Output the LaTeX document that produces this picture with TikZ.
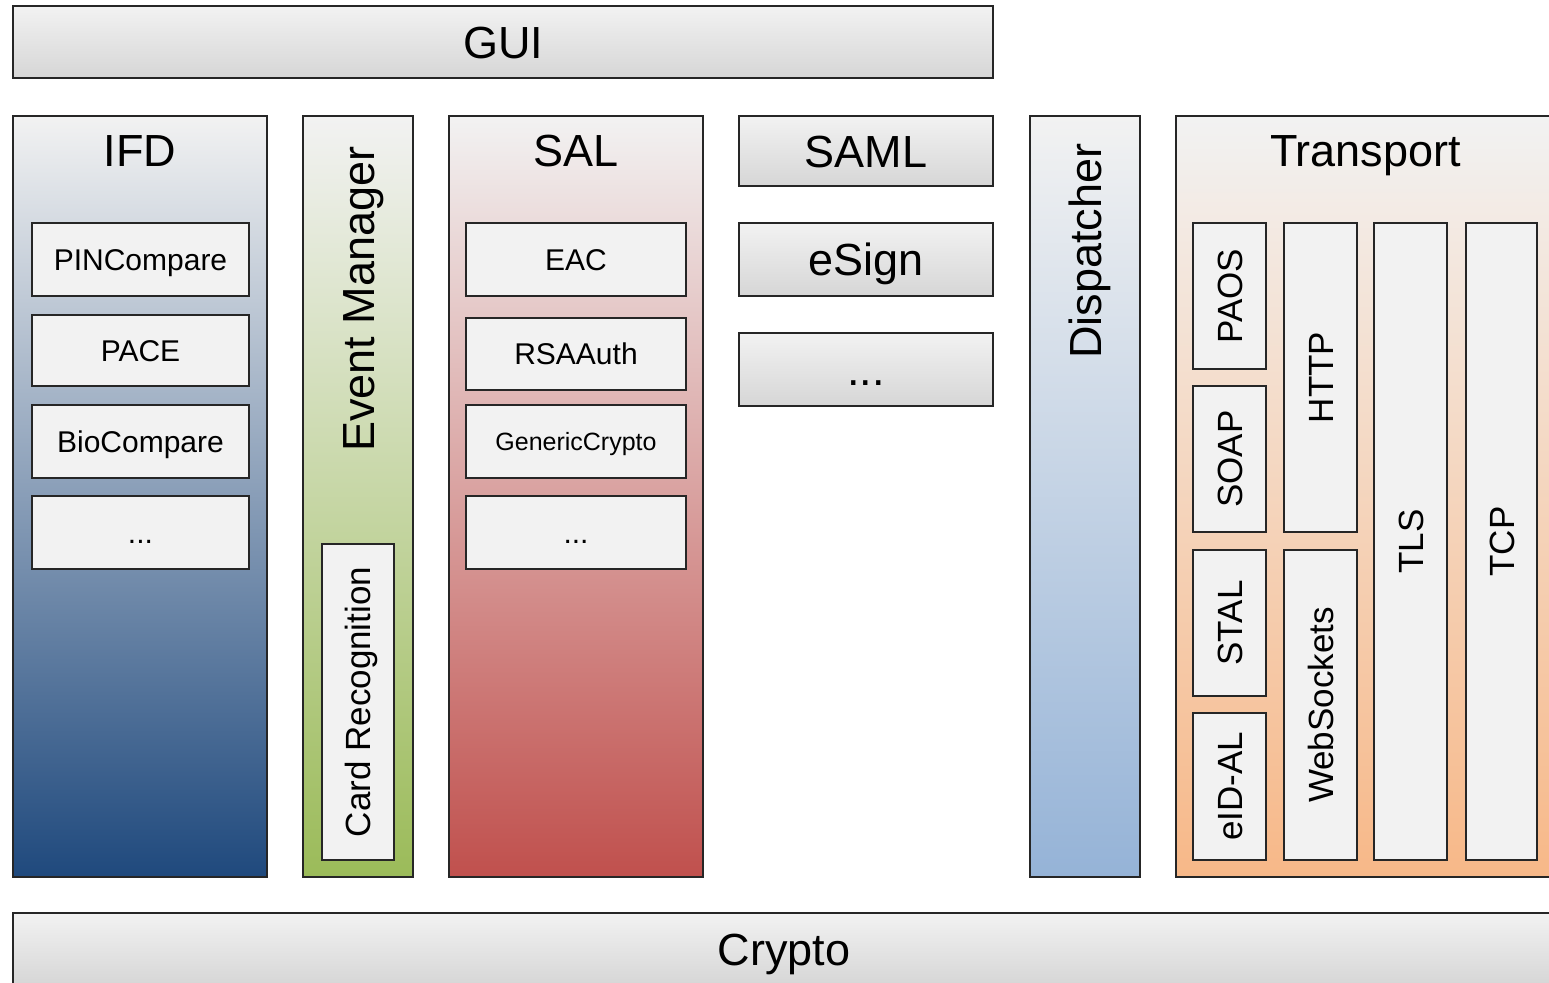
\documentclass[tikz,border=0pt]{standalone}
\usepackage{fontspec}
\setmainfont{Liberation Sans}
\definecolor{lite}{HTML}{F2F2F2}
\definecolor{grayb}{HTML}{D6D6D6}
\definecolor{ifdb}{HTML}{1F497D}
\definecolor{ifdm}{HTML}{9AAAC0}
\definecolor{emb}{HTML}{9BBB59}
\definecolor{salb}{HTML}{C0504D}
\definecolor{disb}{HTML}{95B3D7}
\definecolor{trb}{HTML}{F7B888}
\definecolor{edge}{HTML}{262626}
\tikzset{
  frame/.style={draw=edge, line width=1.5pt, inner sep=0pt, outer sep=0pt, anchor=north west},
  graybox/.style={frame, top color=lite, bottom color=grayb},
  subbox/.style={frame, fill=lite},
  lblbig/.style={inner sep=0pt, text height=32.2pt, text depth=0pt, font=\fontsize{45}{54}\selectfont},
  lblmid/.style={inner sep=0pt, text height=25pt, text depth=0pt, font=\fontsize{35}{42}\selectfont},
  lblsub/.style={inner sep=0pt, text height=21.5pt, text depth=0pt, font=\fontsize{30}{36}\selectfont},
  lblsm/.style={inner sep=0pt, text height=17.9pt, text depth=0pt, font=\fontsize{25}{30}\selectfont},
}
\newcommand{\bx}[6]{\node[#1, minimum width=#4pt-#2pt, minimum height=#5pt-#3pt] (#6) at (#2,#3) {};}
\begin{document}
\begin{tikzpicture}[x=1pt,y=-1pt]
\useasboundingbox (0,0) rectangle (1549,982);
\clip (0,0) rectangle (1549,982);
% GUI
\bx{graybox}{13}{6}{993}{78}{gui}
\node[lblbig] (guit) at (gui.center) {GUI};
% IFD
\bx{frame, top color=lite, middle color=ifdm, bottom color=ifdb}{13}{116}{267}{877}{ifd}
\node[lblbig] (ifdt) at (140,150) {IFD};
\bx{subbox}{32}{223}{249}{296}{pin}
\node[lblsub] at (pin.center) {PINCompare};
\bx{subbox}{32}{315}{249}{386}{pace}
\node[lblsub] at (pace.center) {PACE};
\bx{subbox}{32}{405}{249}{478}{bio}
\node[lblsub] at (bio.center) {BioCompare};
\bx{subbox}{32}{496}{249}{569}{ifddots}
\node[lblsub] at (ifddots.center) {...};
% Event Manager
\bx{frame, top color=lite, bottom color=emb}{303}{116}{413}{877}{em}
\node[lblbig, rotate=90] (emt) at (358,299) {Event Manager};
\bx{subbox}{322}{544}{394}{860}{card}
\node[lblmid, rotate=90] at (card.center) {Card Recognition};
% SAL
\bx{frame, top color=lite, bottom color=salb}{449}{116}{703}{877}{sal}
\node[lblbig] (salt) at (576,150) {SAL};
\bx{subbox}{466}{223}{686}{296}{eac}
\node[lblsub] at (eac.center) {EAC};
\bx{subbox}{466}{318}{686}{390}{rsa}
\node[lblsub] at (rsa.center) {RSAAuth};
\bx{subbox}{466}{405}{686}{478}{gen}
\node[lblsm] at (gen.center) {GenericCrypto};
\bx{subbox}{466}{496}{686}{569}{saldots}
\node[lblsub] at (saldots.center) {...};
% SAML column
\bx{graybox}{739}{116}{993}{186}{saml}
\node[lblbig] at (saml.center) {SAML};
\bx{graybox}{739}{223}{993}{296}{esign}
\node[lblbig] at (esign.center) {eSign};
\bx{graybox}{739}{333}{993}{406}{more}
\node[lblbig] at (more.center) {...};
% Dispatcher
\bx{frame, top color=lite, bottom color=disb}{1030}{116}{1140}{877}{disp}
\node[lblbig, rotate=90] (dispt) at (1085,251) {Dispatcher};
% Transport
\bx{frame, top color=lite, bottom color=trb}{1176}{116}{1555}{877}{tr}
\node[lblbig] (trt) at (1365.5,150) {Transport};
\bx{subbox}{1193}{223}{1266}{369}{paos}
\node[lblmid, rotate=90] at (paos.center) {PAOS};
\bx{subbox}{1193}{386}{1266}{532}{soap}
\node[lblmid, rotate=90] at (soap.center) {SOAP};
\bx{subbox}{1193}{550}{1266}{696}{stal}
\node[lblmid, rotate=90] at (stal.center) {STAL};
\bx{subbox}{1193}{713}{1266}{860}{eidal}
\node[lblmid, rotate=90] at (eidal.center) {eID-AL};
\bx{subbox}{1284}{223}{1357}{532}{http}
\node[lblmid, rotate=90] at (http.center) {HTTP};
\bx{subbox}{1284}{550}{1357}{860}{ws}
\node[lblmid, rotate=90] at (ws.center) {WebSockets};
\bx{subbox}{1374}{223}{1447}{860}{tls}
\node[lblmid, rotate=90] at (tls.center) {TLS};
\bx{subbox}{1466}{223}{1537}{860}{tcp}
\node[lblmid, rotate=90] at (tcp.center) {TCP};
% Crypto
\bx{graybox}{13}{913}{1555}{985}{crypto}
\node[lblbig] at (crypto.center) {Crypto};
\end{tikzpicture}
\end{document}
